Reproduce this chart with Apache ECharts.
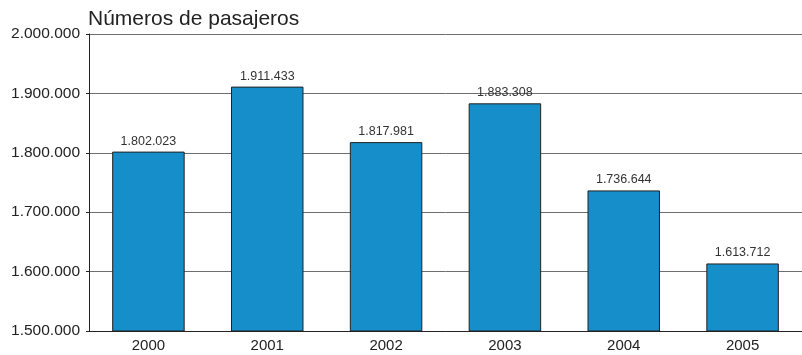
<!DOCTYPE html>
<html>
<head>
<meta charset="utf-8">
<script src="https://cdn.jsdelivr.net/npm/echarts@6/dist/echarts.min.js"></script>
<style>
  html, body { margin: 0; padding: 0; background: #ffffff; }
  #chart { width: 802px; height: 355px; }
</style>
</head>
<body>
<div id="chart"></div>
<script>
// datos
var years = ['2000', '2001', '2002', '2003', '2004', '2005'];
var pasajeros = [1802023, 1911433, 1817981, 1883308, 1736644, 1613712];
var yTicks = [1500000, 1600000, 1700000, 1800000, 1900000, 2000000];

function fmt(v) {
  return String(v).replace(/\B(?=(\d{3})+(?!\d))/g, '.');
}

var myChart = echarts.init(document.getElementById('chart'));
var option = {
  backgroundColor: '#ffffff',
  animation: false,
  title: {
    text: 'Números de pasajeros',
    left: 83,
    top: 4,
    textStyle: {
      fontFamily: 'Liberation Sans, Arial, sans-serif',
      fontSize: 21,
      fontWeight: 'normal',
      color: '#222222'
    }
  },
  grid: {
    left: 89,
    right: 0,
    top: 34,
    bottom: 24
  },
  xAxis: {
    type: 'category',
    data: years,
    axisTick: { show: false },
    axisLine: { lineStyle: { color: '#222222', width: 1 } },
    axisLabel: {
      fontFamily: 'Liberation Sans, Arial, sans-serif',
      fontSize: 15,
      color: '#222222',
      margin: 7
    }
  },
  yAxis: {
    type: 'value',
    min: yTicks[0],
    max: yTicks[yTicks.length - 1],
    interval: 100000,
    axisLine: { show: true, lineStyle: { color: '#222222', width: 1 } },
    axisTick: { show: true, length: 3, lineStyle: { color: '#222222' } },
    splitLine: { show: true, lineStyle: { color: '#6e6e6e', width: 1 } },
    axisLabel: {
      fontFamily: 'Liberation Sans, Arial, sans-serif',
      fontSize: 15.5,
      color: '#222222',
      margin: 9,
      formatter: function (v) { return fmt(v); }
    }
  },
  series: [{
    type: 'bar',
    data: pasajeros,
    barWidth: '61%',
    itemStyle: {
      color: '#168ec9',
      borderColor: '#222222',
      borderWidth: 1
    },
    label: {
      show: true,
      position: 'top',
      distance: 4,
      fontFamily: 'Liberation Sans, Arial, sans-serif',
      fontSize: 12.5,
      color: '#333333',
      formatter: function (p) { return fmt(p.value); }
    }
  }]
};
myChart.setOption(option);
</script>
</body>
</html>
